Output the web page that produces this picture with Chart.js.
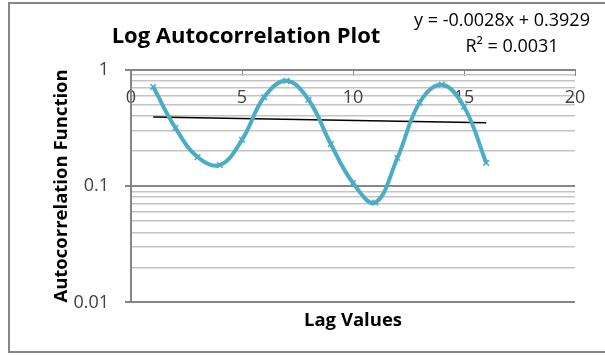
<!DOCTYPE html>
<html>
<head>
<meta charset="utf-8">
<script src="https://cdn.jsdelivr.net/npm/chart.js@4"></script>
<style>
  body { margin: 0; background: #fff; }
  #wrap { width: 605px; height: 355px; }
</style>
</head>
<body>
<div id="wrap"><canvas id="AcfChart"></canvas></div>
<script>
const lags = [1, 2, 3, 4, 5, 6, 7, 8, 9, 10, 11, 12, 13, 14, 15, 16];
const acfValues = [0.71, 0.315, 0.177, 0.151, 0.249, 0.58, 0.80, 0.55, 0.229, 0.106, 0.072, 0.174, 0.52, 0.74, 0.48, 0.158];
const trendX = [1, 16];
const trendY = [0.3901, 0.3481];
const yTicks = [0.01, 0.02, 0.03, 0.04, 0.05, 0.06, 0.07, 0.08, 0.09,
  0.1, 0.2, 0.3, 0.4, 0.5, 0.6, 0.7, 0.8, 0.9, 1];
const yMajor = [0.01, 0.1, 1];
const yLabels = ['0.01', '0.1', '1'];
const xTicks = [0, 5, 10, 15, 20];

const ctx = document.getElementById('AcfChart');

const isMajor = v => yMajor.some(m => Math.abs(m - v) < 1e-9);

// frame, main title and trendline equation
const extras = {
  id: 'extras',
  beforeDraw(chart) {
    const c = chart.ctx;
    c.save();
    c.fillStyle = '#fff';
    c.fillRect(0, 0, chart.width, chart.height);
    c.strokeStyle = '#868686';
    c.lineWidth = 2;
    c.strokeRect(9, 3, 605, 349);
    c.restore();
  },
  afterDraw(chart) {
    const c = chart.ctx;
    c.save();
    c.fillStyle = '#000';
    c.textAlign = 'center';
    c.textBaseline = 'middle';
    c.font = 'bold 22px "Open Sans"';
    c.fillText('Log Autocorrelation Plot', 246, 37);
    c.font = '18px "Open Sans"';
    c.fillText('y = -0.0028x + 0.3929', 502, 21);
    c.fillText('R² = 0.0031', 512, 47);
    c.restore();
  }
};

new Chart(ctx, {
  type: 'line',
  data: {
    datasets: [{
      label: 'ACF',
      data: lags.map((x, i) => ({x: x, y: acfValues[i]})),
      borderColor: '#4BACC6',
      borderWidth: 4,
      tension: 0.4,
      pointStyle: 'crossRot',
      pointRadius: 4,
      pointBorderWidth: 1.5,
      pointBorderColor: '#4BACC6',
    }, {
      label: 'Trend',
      data: trendX.map((x, i) => ({x: x, y: trendY[i]})),
      borderColor: '#000',
      borderWidth: 1.5,
      pointRadius: 0,
      tension: 0,
    }]
  },
  options: {
    responsive: true,
    maintainAspectRatio: false,
    animation: false,
    layout: { padding: { left: 51, right: 30, top: 69.5, bottom: 23 } },
    plugins: {
      legend: { display: false },
      tooltip: { enabled: false },
      title: {
        display: true,
        position: 'bottom',
        fullSize: false,
        text: 'Lag Values',
        color: '#000',
        font: { family: 'Open Sans', size: 18.5, weight: 'bold', lineHeight: 1.2 },
        padding: { top: 7.4, bottom: 0 },
      },
    },
    scales: {
      x: {
        type: 'linear',
        position: { y: 1 },
        min: 0,
        max: 20,
        afterBuildTicks: s => { s.ticks = xTicks.map(v => ({value: v})); },
        grid: { display: true, drawOnChartArea: false, drawTicks: true, tickLength: 5, color: '#868686' },
        border: { display: true, color: '#868686', width: 2 },
        ticks: {
          padding: 13,
          color: '#404040',
          font: { family: 'Open Sans', size: 18 },
          maxRotation: 0,
        },
      },
      y: {
        type: 'logarithmic',
        min: 0.01,
        max: 1,
        afterBuildTicks: s => { s.ticks = yTicks.map(v => ({value: v})); },
        afterFit: s => { s.width = 80; },
        grid: {
          color: c => isMajor(c.tick.value) ? '#868686' : '#c3c3c3',
          lineWidth: c => isMajor(c.tick.value) ? 2 : 1.5,
          tickColor: c => isMajor(c.tick.value) ? '#868686' : 'rgba(0,0,0,0)',
          tickLength: 6,
        },
        border: { display: true, color: '#868686', width: 2 },
        ticks: {
          autoSkip: false,
          padding: 16,
          color: '#404040',
          font: { family: 'Open Sans', size: 18 },
          callback: v => {
            const i = yMajor.findIndex(m => Math.abs(m - v) < 1e-9);
            return i >= 0 ? yLabels[i] : '';
          },
        },
        title: {
          display: true,
          text: 'Autocorrelation Function',
          color: '#000',
          font: { family: 'Open Sans', size: 18.5, weight: 'bold', lineHeight: 1.2 },
          padding: { top: 0, bottom: 0 },
        },
      },
    },
  },
  plugins: [extras],
});
</script>
</body>
</html>
